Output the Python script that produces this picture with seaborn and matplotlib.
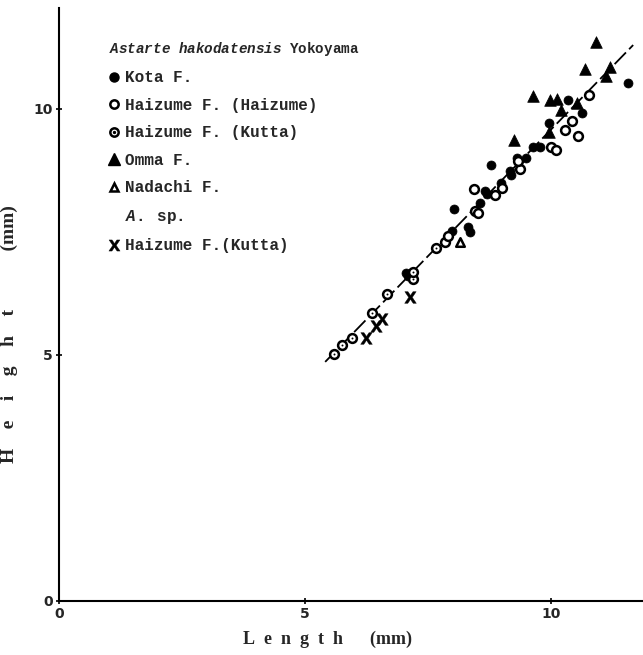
import matplotlib
matplotlib.use("Agg")
import matplotlib.pyplot as plt
from matplotlib.lines import Line2D
import seaborn as sns

# ---- data (Length mm, Height mm) ----
kota_x = [7.05, 7.10, 7.98, 8.03, 8.32, 8.35, 8.56, 8.66, 8.69, 8.78, 8.98, 9.17, 9.19,
          9.30, 9.50, 9.64, 9.78, 9.95, 10.35, 10.62, 11.57]
kota_y = [6.67, 6.60, 7.53, 7.96, 7.61, 7.51, 8.08, 8.33, 8.28, 8.86, 8.50, 8.73, 8.66,
          9.00, 9.00, 9.23, 9.23, 9.71, 10.18, 9.91, 10.52]

haizume_x = [7.85, 7.90, 8.46, 8.52, 8.43, 8.86, 9.00, 9.37, 9.32, 10.01, 10.11, 10.28,
             10.42, 10.54, 10.77]
haizume_y = [7.30, 7.42, 7.93, 7.88, 8.37, 8.25, 8.40, 8.78, 8.95, 9.23, 9.17, 9.57,
             9.76, 9.46, 10.28]

kutta_x = [5.58, 5.75, 5.95, 6.36, 6.66, 7.19, 7.19, 7.67]
kutta_y = [5.02, 5.20, 5.34, 5.85, 6.23, 6.54, 6.68, 7.17]

omma_x = [9.25, 9.64, 9.98, 10.12, 10.20, 10.52, 9.95, 10.69, 10.91, 11.11, 11.20]
omma_y = [9.36, 10.26, 10.19, 10.20, 9.97, 10.12, 9.54, 10.82, 11.37, 10.67, 10.86]

nadachi_x = [8.15]
nadachi_y = [7.30]

sp_x = [6.24, 6.44, 6.56, 7.13]
sp_y = [5.34, 5.59, 5.73, 6.18]

line_x = [5.41, 11.67]
line_y = [4.86, 11.30]

x_ticks = [0, 5, 10]
y_ticks = [0, 5, 10]

legend_title = r"$\mathit{Astarte}$ $\mathit{hakodatensis}$ Yokoyama"
labels = ["Kota F.", "Haizume F. (Haizume)", "Haizume F. (Kutta)", "Omma F.",
          "Nadachi F.", r"$\mathit{A.}$ sp.", "Haizume F.(Kutta)"]

EN = "\u2002"
x_label = EN.join("Length") + EN * 3 + "(mm)"
y_label = "\u2003".join("Height") + "\u2003" * 3 + "(mm)"

# ---- style ----
sns.set_theme(style="white")
plt.rcParams["font.family"] = ["DejaVu Sans"]
plt.rcParams["mathtext.fontset"] = "custom"
plt.rcParams["mathtext.it"] = "Liberation Mono:italic:bold"
plt.rcParams["mathtext.rm"] = "Liberation Mono:bold"

fig = plt.figure(figsize=(6.43, 6.55), dpi=100)
ax = fig.add_axes([59 / 643, 54 / 655, 584 / 643, 593 / 655])

# regression line
sns.lineplot(x=line_x, y=line_y, ax=ax, color="black", lw=1.3,
             linestyle=(0, (9, 2.5)), sort=False, estimator=None)

sns.scatterplot(x=kota_x, y=kota_y, ax=ax, marker="o", s=42, color="black",
                edgecolor="black", linewidth=0.5, zorder=3)
sns.scatterplot(x=haizume_x, y=haizume_y, ax=ax, marker="o", s=40, facecolor="white",
                edgecolor="black", linewidth=1.8, zorder=3)
sns.scatterplot(x=kutta_x, y=kutta_y, ax=ax, marker="o", s=40, facecolor="white",
                edgecolor="black", linewidth=1.8, zorder=3)
sns.scatterplot(x=kutta_x, y=kutta_y, ax=ax, marker="o", s=2, color="black",
                edgecolor="black", linewidth=0, zorder=4)
sns.scatterplot(x=omma_x, y=omma_y, ax=ax, marker="^", s=70, color="black",
                edgecolor="black", linewidth=0.5, zorder=3)
sns.scatterplot(x=nadachi_x, y=nadachi_y, ax=ax, marker="^", s=38, facecolor="white",
                edgecolor="black", linewidth=1.8, zorder=3)
sns.scatterplot(x=sp_x, y=sp_y, ax=ax, marker=r"$\mathbf{X}$", s=70, color="black",
                edgecolor="black", linewidth=0.3, zorder=3)

ax.set_xlim(0, 584 / 49.2)
ax.set_ylim(0, 593 / 49.2)
ax.set_xticks(x_ticks)
ax.set_yticks(y_ticks)
tick_font = dict(family=["Liberation Sans Narrow", "DejaVu Sans"], weight="bold", size=10)
ax.set_xticklabels([str(t) for t in x_ticks], fontdict=tick_font)
ax.set_yticklabels([str(t) for t in y_ticks], fontdict=tick_font)
ax.tick_params(axis="both", direction="inout", length=5, width=1.2, color="black",
               pad=2, bottom=True, left=True)
for s in ["top", "right"]:
    ax.spines[s].set_visible(False)
for s in ["left", "bottom"]:
    ax.spines[s].set_color("black")
    ax.spines[s].set_linewidth(1.5)

ax.set_xlabel(x_label, fontdict=dict(family=["Liberation Serif", "DejaVu Serif"],
                                     size=13, weight="bold"))
ax.set_ylabel(y_label, fontdict=dict(family=["Liberation Serif", "DejaVu Serif"],
                                     size=14, weight="bold"))
ax.xaxis.set_label_coords(0.46, -0.05)
ax.yaxis.set_label_coords(-0.07, 0.45)

# legend
mk = dict(linestyle="none", color="black")
handles = [
    Line2D([], [], marker="o", markersize=6.5, markerfacecolor="black", **mk),
    Line2D([], [], marker="o", markersize=6, markerfacecolor="white",
           markeredgewidth=1.8, **mk),
    (Line2D([], [], marker="o", markersize=6, markerfacecolor="white",
            markeredgewidth=1.8, **mk),
     Line2D([], [], marker="o", markersize=1.4, markerfacecolor="black", **mk)),
    Line2D([], [], marker="^", markersize=8, markerfacecolor="black", **mk),
    Line2D([], [], marker="^", markersize=6, markerfacecolor="white",
           markeredgewidth=1.8, **mk),
    Line2D([], [], marker="none", **mk),
    Line2D([], [], marker=r"$\mathbf{X}$", markersize=8, markeredgewidth=0.3, **mk),
]
leg_font = dict(family=["Liberation Mono", "DejaVu Sans Mono"], weight="bold", size=11.5)
title_font = dict(family=["Liberation Mono", "DejaVu Sans Mono"], weight="bold", size=10.3)
leg = ax.legend(handles, labels, loc="upper left", bbox_to_anchor=(0.085, 0.946),
                frameon=False, borderaxespad=0, borderpad=0, handlelength=0.7,
                handletextpad=0.3, labelspacing=0.78, alignment="left",
                title=legend_title, prop=leg_font, title_fontproperties=title_font)

fig.savefig("out.png", dpi=100)
